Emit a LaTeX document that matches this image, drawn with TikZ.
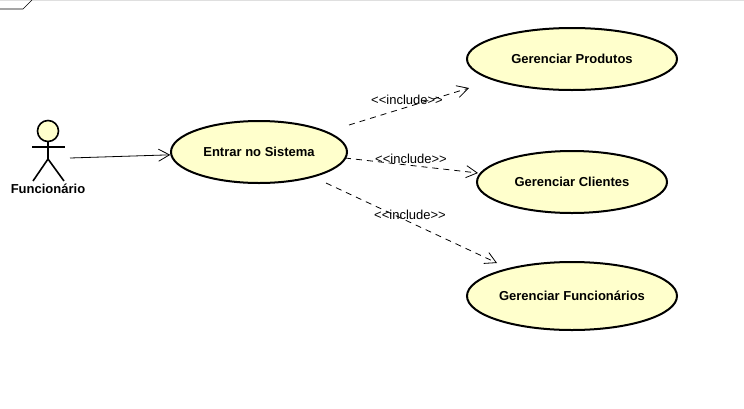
\documentclass[tikz,border=0pt]{standalone}
\usepackage{fontspec}
\setmainfont{Liberation Sans}
\usetikzlibrary{arrows.meta,shapes.geometric}
\definecolor{usefill}{HTML}{FFFFCC}
\tikzset{
    usecase/.style={draw, ellipse, line width=2pt, fill=usefill, inner sep=0pt, font=\fontsize{13}{15}\selectfont\bfseries},
    assoc/.style={-{Straight Barb[length=11pt,width=12pt]}, line width=0.8pt},
    incl/.style={assoc, dash pattern=on 6pt off 5pt},
    incllabel/.style={font=\fontsize{13}{15}\selectfont, inner sep=0pt},
    limb/.style={line width=1.6pt}
}

\begin{document}
\begin{tikzpicture}[x=1pt,y=-1pt]
    \useasboundingbox (0,0) rectangle (744,408);
    % frame corner
    \draw[gray!25, line width=1pt] (0,0.5) -- (744,0.5);
    \draw[line width=0.7pt] (0,9) -- (23,9) -- (32,0);
    % use cases
    \node[usecase, minimum width=176pt, minimum height=62pt] (entrar) at (259,152) {Entrar no Sistema};
    \node[usecase, minimum width=210pt, minimum height=62pt] (produtos) at (572,59) {Gerenciar Produtos};
    \node[usecase, minimum width=190pt, minimum height=62pt] (clientes) at (572,182) {Gerenciar Clientes};
    \node[usecase, minimum width=210pt, minimum height=68pt] (funcionarios) at (572,296) {Gerenciar Funcionários};
    % actor
    \node[draw, circle, line width=1.6pt, fill=usefill, minimum size=21pt, inner sep=0pt] (head) at (48,131) {};
    \coordinate (hip) at (48,159);
    \draw[limb] (head) -- (hip);
    \draw[limb] (32,147) -- (65,147);
    \draw[limb] (33,181) -- (hip) -- (64,181);
    \node[font=\fontsize{13}{15}\selectfont\bfseries, inner sep=0pt] (actor) at (48,189) {Funcionário};
    % connectors
    \coordinate (actorend) at (70,158);
    \coordinate (a) at (349,125);
    \coordinate (ap) at (469,88);
    \coordinate (b) at (345,158);
    \coordinate (bp) at (478,173);
    \coordinate (c) at (326,183);
    \coordinate (cp) at (497,263);
    \draw[assoc] (actorend) -- (entrar);
    \draw[incl] (a) -- (ap);
    \draw[incl] (b) -- (bp);
    \draw[incl] (c) -- (cp);
    \node[incllabel] (la) at (407,100) {<{}<include>{}>};
    \node[incllabel] (lb) at (411,159) {<{}<include>{}>};
    \node[incllabel] (lc) at (410,215) {<{}<include>{}>};
\end{tikzpicture}
\end{document}
